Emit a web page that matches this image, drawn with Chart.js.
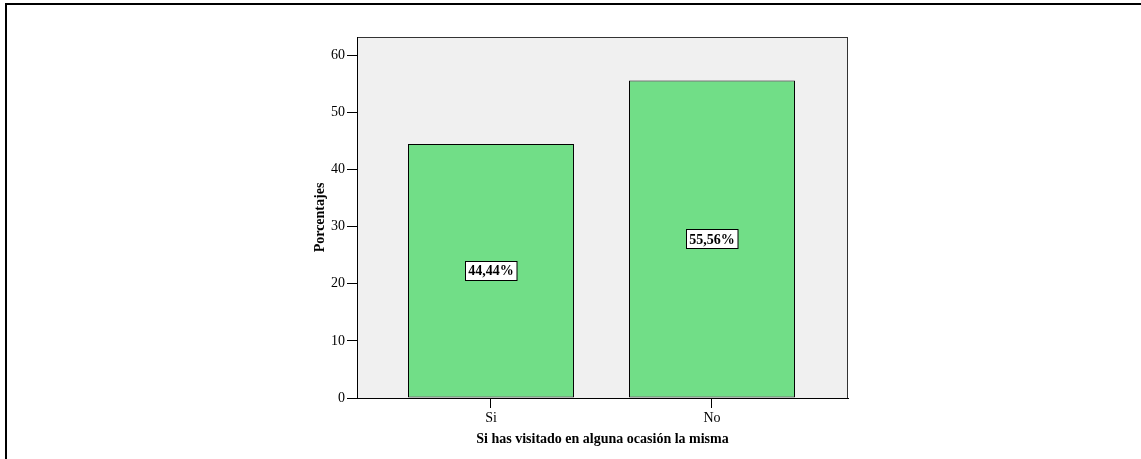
<!DOCTYPE html>
<html>
<head>
<meta charset="utf-8">
<script src="https://cdn.jsdelivr.net/npm/chart.js@4/dist/chart.umd.min.js"></script>
<style>
  html, body { margin: 0; padding: 0; background: #ffffff; }
  #wrap { position: relative; width: 1141px; height: 459px; overflow: hidden; }
  #frame { position: absolute; left: 5px; top: 3px; right: -10px; bottom: -10px;
           border-left: 2px solid #000; border-top: 2px solid #000; pointer-events: none; }
  canvas { position: absolute; left: 0; top: 0; }
</style>
</head>
<body>
<div id="wrap">
  <canvas id="chart" width="1141" height="459"></canvas>
  <div id="frame"></div>
</div>
<script>
// Respuestas y porcentajes
const categories = ['Si', 'No'];
const percentages = [44.44, 55.56];
const yTicks = [0, 10, 20, 30, 40, 50, 60];

const SERIF = '"Liberation Serif", "Times New Roman", serif';

// Fondo gris del área de trazado con su marco
const plotFrame = {
  id: 'plotFrame',
  beforeDraw(chart) {
    const { ctx, chartArea: a } = chart;
    ctx.save();
    ctx.fillStyle = '#f0f0f0';
    ctx.fillRect(a.left, a.top, a.right - a.left, a.bottom - a.top);
    ctx.strokeStyle = '#333333';
    ctx.lineWidth = 1;
    ctx.strokeRect(a.left + 0.5, a.top + 0.5, a.right - a.left - 1, a.bottom - a.top);
    ctx.restore();
  }
};

// Etiqueta con el porcentaje en el centro de cada barra
const valueBoxes = {
  id: 'valueBoxes',
  afterDatasetsDraw(chart) {
    const { ctx } = chart;
    const meta = chart.getDatasetMeta(0);
    ctx.save();
    ctx.font = 'bold 14px ' + SERIF;
    ctx.textAlign = 'center';
    ctx.textBaseline = 'middle';
    meta.data.forEach((bar, i) => {
      const v = chart.data.datasets[0].data[i].y;
      const txt = v.toFixed(2).replace('.', ',') + '%';
      const cy = (bar.y + bar.base) / 2;
      const w = ctx.measureText(txt).width + 6;
      const h = 19;
      const x0 = Math.round(bar.x - w / 2) + 0.5;
      const y0 = Math.round(cy - h / 2) + 0.5;
      ctx.fillStyle = '#ffffff';
      ctx.fillRect(x0, y0, w, h);
      ctx.strokeStyle = '#000000';
      ctx.lineWidth = 1;
      ctx.strokeRect(x0, y0, w, h);
      ctx.fillStyle = '#000000';
      ctx.fillText(txt, bar.x, cy + 1);
    });
    ctx.restore();
  }
};

new Chart(document.getElementById('chart'), {
  type: 'bar',
  data: {
    datasets: [{
      data: categories.map((c, i) => ({ x: i, y: percentages[i] })),
      backgroundColor: '#71de87',
      borderColor: '#000000',
      borderWidth: 1,
      borderSkipped: false,
      categoryPercentage: 1,
      barPercentage: 0.751
    }]
  },
  options: {
    responsive: false,
    animation: false,
    events: [],
    layout: { padding: { left: 300, right: 293, top: 37, bottom: 0 } },
    plugins: { legend: { display: false }, tooltip: { enabled: false } },
    scales: {
      x: {
        type: 'linear',
        offset: false,
        min: -0.6063,
        max: 1.6154,
        afterBuildTicks(scale) { scale.ticks = categories.map((c, i) => ({ value: i })); },
        afterFit(scale) { scale.height = 61; },
        ticks: {
          callback: (v) => categories[v],
          color: '#000',
          font: { family: SERIF, size: 14 },
          padding: 2,
          maxRotation: 0,
          autoSkip: false
        },
        grid: { display: true, offset: false, drawOnChartArea: false, drawTicks: true, tickLength: 10, color: '#000' },
        border: { display: true, color: '#000', width: 1 },
        title: {
          display: true,
          text: 'Si has visitado en alguna ocasión la misma',
          color: '#000',
          font: { family: SERIF, size: 14, weight: 'bold' },
          padding: { top: 0, bottom: 11 }
        }
      },
      y: {
        min: 0,
        max: 63.15,
        afterBuildTicks(scale) { scale.ticks = yTicks.map(v => ({ value: v })); },
        afterFit(scale) { scale.width = 57; },
        ticks: {
          color: '#000',
          font: { family: SERIF, size: 14 },
          padding: 2
        },
        grid: { display: true, drawOnChartArea: false, drawTicks: true, tickLength: 10, color: '#000' },
        border: { display: true, color: '#000', width: 1 },
        title: {
          display: true,
          text: 'Porcentajes',
          color: '#000',
          font: { family: SERIF, size: 14, weight: 'bold' },
          padding: { top: 12, bottom: 0 }
        }
      }
    }
  },
  plugins: [plotFrame, valueBoxes]
});
</script>
</body>
</html>
